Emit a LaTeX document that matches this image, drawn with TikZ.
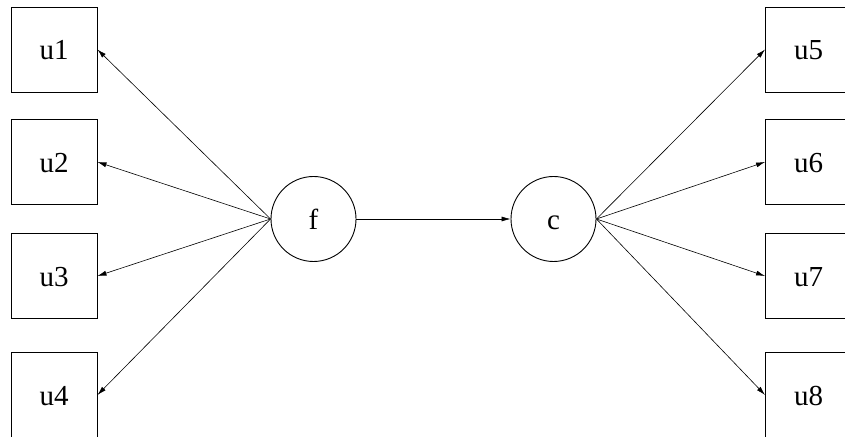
\documentclass[tikz,border=0pt]{standalone}
\usepackage{fontspec}
\setmainfont{Liberation Serif}
\usetikzlibrary{arrows.meta}
\begin{document}
\begin{tikzpicture}[x=1pt,y=1pt,
  txt/.style={font=\fontsize{29}{32}\selectfont,text height=21pt,text depth=0pt},
  obs/.style={txt,draw,line width=0.9pt,minimum width=86pt,minimum height=85pt,inner sep=0pt},
  lat/.style={txt,draw,line width=0.9pt,circle,minimum size=85pt,inner sep=0pt},
  arr/.style={line width=0.6pt,-{Latex[length=9pt,width=5pt]}}]
\useasboundingbox (0,0) rectangle (845,436);
\clip (0,0) rectangle (845,436);
\node[obs] (u1) at (54,386.5) {u1};
\node[obs] (u2) at (54,274) {u2};
\node[obs] (u3) at (54,160) {u3};
\node[obs] (u4) at (54,41) {u4};
\node[obs] (u5) at (808.5,386.5) {u5};
\node[obs] (u6) at (808.5,274) {u6};
\node[obs] (u7) at (808.5,160) {u7};
\node[obs] (u8) at (808.5,41) {u8};
\node[lat] (f) at (313.5,217) {f};
\node[lat] (c) at (553.5,217) {c};
\foreach \u in {u1,u2,u3,u4} \draw[arr] (f.west) -- (\u.east);
\foreach \u in {u5,u6,u7,u8} \draw[arr] (c.east) -- (\u.west);
\draw[arr] (f.east) -- (c.west);
\end{tikzpicture}
\end{document}
